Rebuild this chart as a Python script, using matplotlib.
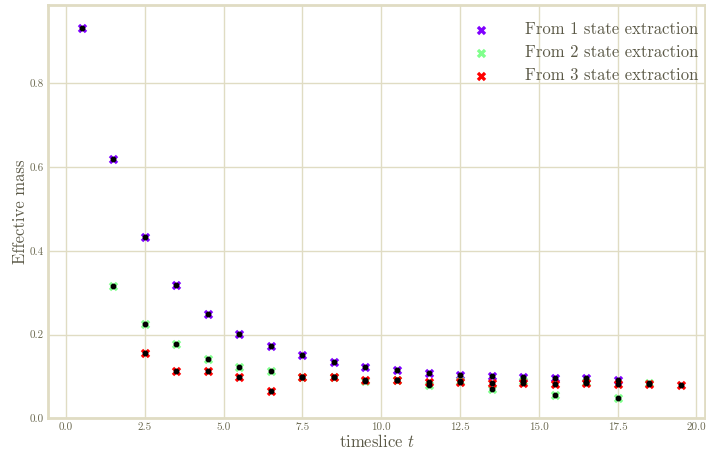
import numpy as np
import matplotlib
matplotlib.use("Agg")
import matplotlib.pyplot as plt

# effective mass from the fits, read per timeslice
t_1state = [0.5, 1.5, 2.5, 3.5, 4.5, 5.5, 6.5, 7.5, 8.5, 9.5, 10.5, 11.5, 12.5, 13.5, 14.5, 15.5, 16.5, 17.5]
m_1state = [0.931, 0.619, 0.432, 0.319, 0.248, 0.2017, 0.172, 0.1514, 0.1347, 0.1234, 0.1148, 0.108, 0.1036,
            0.1004, 0.0988, 0.097, 0.0957, 0.0923]

t_2state = [1.5, 2.5, 3.5, 4.5, 5.5, 6.5, 7.5, 8.5, 9.5, 10.5, 11.5, 12.5, 13.5, 14.5, 15.5, 16.5, 17.5, 18.5]
m_2state = [0.315, 0.2256, 0.177, 0.1427, 0.1236, 0.1124, 0.0988, 0.099, 0.089, 0.092, 0.0797, 0.089, 0.0694,
            0.088, 0.055, 0.086, 0.0478, 0.084]

t_3state = [2.5, 3.5, 4.5, 5.5, 6.5, 7.5, 8.5, 9.5, 10.5, 11.5, 12.5, 13.5, 14.5, 15.5, 16.5, 17.5, 18.5, 19.5]
m_3state = [0.157, 0.1124, 0.114, 0.0996, 0.066, 0.0996, 0.0996, 0.0916, 0.091, 0.086, 0.0876, 0.0837, 0.085,
            0.0828, 0.0845, 0.0813, 0.0828, 0.0804]

labels = ["From 1 state extraction", "From 2 state extraction", "From 3 state extraction"]

plt.rcParams['font.family'] = ['cmr10', 'DejaVu Serif']
plt.rcParams['mathtext.fontset'] = 'cm'
plt.rcParams['axes.formatter.use_mathtext'] = True

text_col = '#5c5a48'
grid_col = '#e0dcc3'

fig = plt.figure(figsize=(7.06, 4.5), dpi=100)
ax = fig.add_axes([0.0684, 0.0704, 0.9302, 0.9178])

colors = [(0.5, 0.0, 1.0), (0.5, 1.0, 0.55), (1.0, 0.0, 0.0)]
data = [(t_1state, m_1state), (t_2state, m_2state), (t_3state, m_3state)]
for (t, m), c, lab in zip(data, colors, labels):
    ax.scatter(t, m, marker='X', s=46, color=c, label=lab, zorder=3, linewidths=0)
    ax.plot(t, m, 'o', color='black', ms=3.2, zorder=4)

ax.set_xlim(-0.56, 20.27)
ax.set_ylim(0, 0.986)
ax.set_xticks([0, 2.5, 5, 7.5, 10, 12.5, 15, 17.5, 20])
ax.set_xticklabels(['0.0', '2.5', '5.0', '7.5', '10.0', '12.5', '15.0', '17.5', '20.0'])
ax.set_yticks([0, 0.2, 0.4, 0.6, 0.8])
ax.set_yticklabels(['0.0', '0.2', '0.4', '0.6', '0.8'])
ax.grid(True, color=grid_col, linewidth=1.0)
ax.set_axisbelow(True)
for sp in ax.spines.values():
    sp.set_color(grid_col)
    sp.set_linewidth(2)
ax.tick_params(length=0, labelsize=8, colors='#6a684f', pad=3)

ax.set_xlabel('timeslice $t$', fontsize=12, color=text_col, labelpad=1)
ax.set_ylabel('Effective mass', fontsize=12, color=text_col, labelpad=1.5)

leg = ax.legend(loc='upper right', bbox_to_anchor=(1.015, 1.0), frameon=False, fontsize=12,
                scatterpoints=1, handletextpad=1.6, labelspacing=0.45, borderaxespad=0.6)
for txt in leg.get_texts():
    txt.set_color(text_col)

fig.savefig('out.png', dpi=100)
